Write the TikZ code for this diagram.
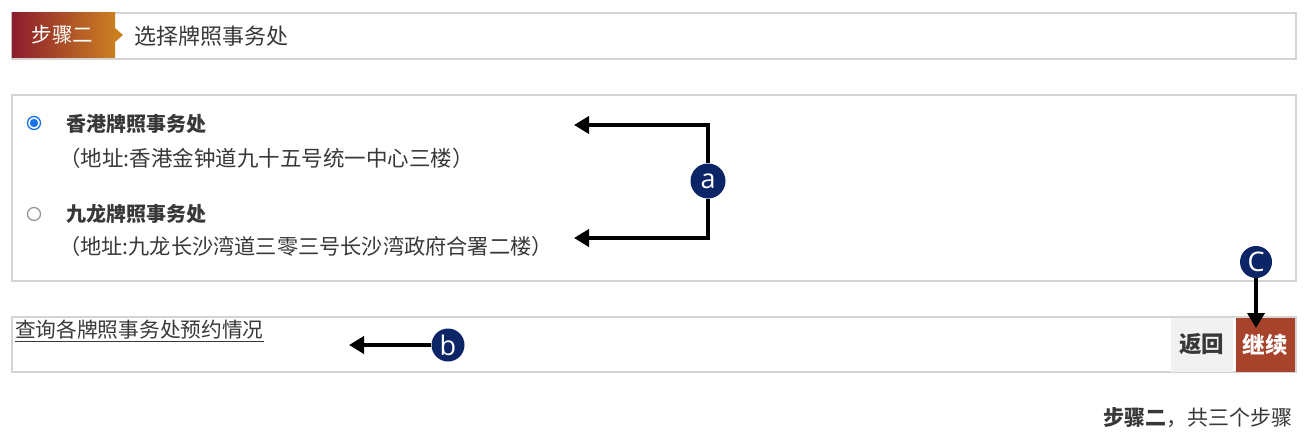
\documentclass[tikz,border=0pt]{standalone}
\usepackage{fontspec}
\setmainfont{Noto Sans CJK SC}
\newfontfamily\cjk{Noto Sans CJK SC}
\newfontfamily\markenfont{Open Sans}
\usetikzlibrary{positioning, shapes, calc, arrows.meta}

\definecolor{rahmen}{HTML}{D4D4D4}
\definecolor{marine}{HTML}{0B2566}
\definecolor{dunkelrot}{HTML}{8C1D2E}
\definecolor{schrittorange}{HTML}{CB7F20}
\definecolor{rost}{HTML}{A8432B}
\definecolor{textgrau}{HTML}{383838}
\definecolor{radioblau}{HTML}{1A73E8}
\definecolor{knopfgrau}{HTML}{F1F1F1}

\tikzset{
    kasten/.style={
        draw=rahmen,         % helle graue Kontur
        line width=1.5pt,
        anchor=north west,
        inner sep=0pt
    },
    schrift/.style={
        anchor=west,
        inner sep=0pt,
        text=textgrau,
        font=\cjk\fontsize{21.5}{21.5}\selectfont
    },
    marke/.style={
        circle,
        fill=marine,
        text=white,
        minimum size=35pt,
        inner sep=0pt,
        font=\markenfont\fontsize{27}{27}\selectfont
    },
    pfeil/.style={
        line width=4pt,
        -{Triangle[length=15pt,width=17pt]}
    }
}

\begin{document}
\begin{tikzpicture}[x=1pt, y=-1pt]

    \useasboundingbox[fill=white] (0,0) rectangle (1306,447);

    % Kopfzeile mit Schrittmarke
    \node[kasten, minimum width=1284pt, minimum height=46pt] (kopf) at (11,12) {};
    \shade[left color=dunkelrot, right color=schrittorange]
        (11.75,12.75) rectangle (115,57.25);
    \fill[schrittorange] (115,28) -- (123,35) -- (115,42) -- cycle;
    \node[schrift, text=white, anchor=center, font=\cjk\fontsize{20.5}{20.5}\selectfont] (schritt) at (62.5,35) {步骤二};
    \node[schrift, font=\cjk\fontsize{22}{22}\selectfont] (titel) at (134,36) {选择牌照事务处};

    % Auswahl der Ämter
    \node[kasten, minimum width=1284pt, minimum height=186pt] (auswahl) at (11,94) {};

    % Optionsfeld oben (gewählt)
    \node[circle, draw=radioblau, line width=1.3pt, fill=white, minimum size=13pt, inner sep=0pt] (radio1) at (34,123) {};
    \fill[radioblau] (radio1.center) circle (4.2);
    \node[schrift, font=\cjk\bfseries\fontsize{20}{20}\selectfont] (amt1) at (66,124) {香港牌照事务处};
    \node[schrift] (adresse1) at (59,158) {（地址:香港金钟道九十五号统一中心三楼）};

    % Optionsfeld unten
    \node[circle, draw=gray!80, line width=1.3pt, fill=white, minimum size=13pt, inner sep=0pt] (radio2) at (34,214) {};
    \node[schrift, font=\cjk\bfseries\fontsize{20}{20}\selectfont] (amt2) at (66,214) {九龙牌照事务处};
    \node[schrift, font=\cjk\fontsize{21.2}{21.2}\selectfont] (adresse2) at (59,246) {（地址:九龙长沙湾道三零三号长沙湾政府合署二楼）};

    % Marke a mit zwei Pfeilen
    \node[marke] (a) at (708,181) {a};
    \coordinate (ziel1) at (574,125);
    \coordinate (ziel2) at (574,238);
    \draw[pfeil] (a.north) |- (ziel1);
    \draw[pfeil] (a.south) |- (ziel2);

    % Fußleiste mit Link und Knöpfen
    \node[kasten, minimum width=1284pt, minimum height=55pt] (fuss) at (11,316) {};
    \node[schrift, font=\cjk\fontsize{20.7}{20.7}\selectfont] (link) at (15,331) {\underline{查询各牌照事务处预约情况}};
    \node[kasten, draw=none, fill=knopfgrau, minimum width=62pt, minimum height=54pt] (zurueck) at (1170,316.75) {};
    \node[text=textgrau, font=\cjk\bfseries\fontsize{22.5}{22.5}\selectfont] at (zurueck.center) {返回};
    \node[kasten, draw=none, fill=rost, minimum width=59pt, minimum height=54pt] (weiter) at (1235,316.75) {};
    \node[text=white, font=\cjk\bfseries\fontsize{22.5}{22.5}\selectfont] at (weiter.center) {继续};

    % Marke b
    \node[marke, minimum size=33pt] (b) at (448,345) {b};
    \coordinate (ziel3) at (349,345);
    \draw[pfeil] (b) -- (ziel3);

    % Marke C
    \node[marke, minimum size=32pt] (c) at (1256,262) {C};
    \coordinate (ziel4) at (1256,328);
    \draw[pfeil] (c) -- (ziel4);

    % Fortschritt unten rechts
    \node[schrift, anchor=east, font=\cjk\fontsize{21}{21}\selectfont] (fortschritt) at (1293,418)
        {{\bfseries 步骤二}，共三个步骤};

\end{tikzpicture}
\end{document}
